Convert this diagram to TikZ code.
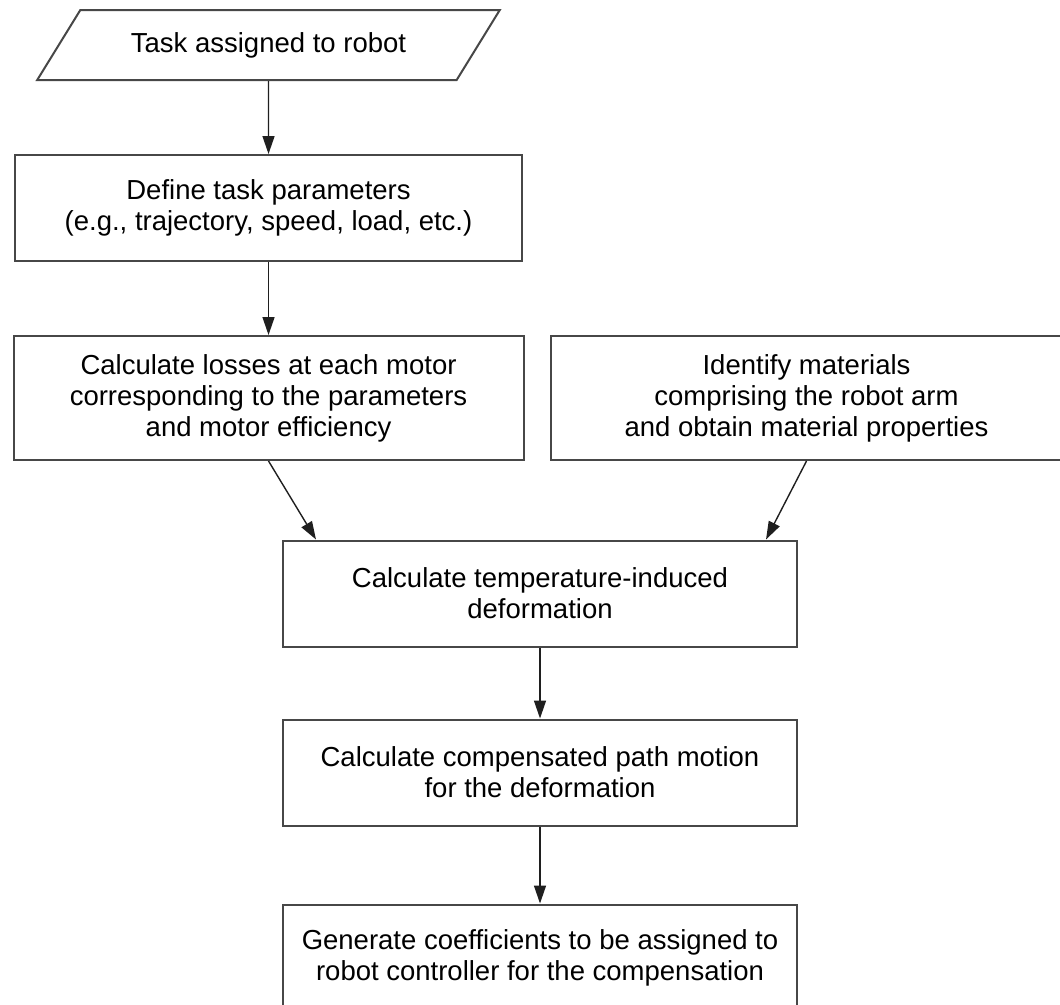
\documentclass[tikz,border=0pt]{standalone}
\usepackage{fontspec}
\setmainfont{Liberation Sans}
\usepackage{tikz}
\usetikzlibrary{
  arrows.meta,
  positioning,
  shapes.geometric,
  calc
}
\tikzset{
  stepbox/.style={draw=black!72, line width=2pt, fill=white,
    minimum height=106pt, align=center,
    font=\fontsize{27.5}{31}\selectfont},
  inbox/.style={draw=black!72, line width=2pt, fill=white,
    trapezium, trapezium left angle=45, trapezium right angle=135,
    trapezium stretches=true,
    minimum width=463pt, minimum height=70pt, align=center,
    font=\fontsize{27.5}{31}\selectfont},
  arr/.style={-{Triangle[length=18pt, width=12pt]}, line width=1.4pt, draw=black!88},
}

\begin{document}
\begin{tikzpicture}[
  node distance=73pt and 27pt
]
  \useasboundingbox (0pt,0pt) rectangle (1060pt,-1004pt);

  % Start: task given
  \node[inbox] (task) at (268.5pt,-45pt) {Task assigned to robot};

  % Task parameters
  \node[stepbox, minimum width=507pt,
        below=of task] (param)
    {Define task parameters\\
     (e.g., trajectory, speed, load, etc.)};

  % Losses and materials
  \node[stepbox, minimum width=510pt, minimum height=124pt,
        below=of param] (loss)
    {Calculate losses at each motor\\
     corresponding to the parameters\\
     and motor efficiency};
  \node[stepbox, minimum width=512pt, minimum height=124pt,
        right=25pt of loss] (mater)
    {Identify materials\\
     comprising the robot arm\\
     and obtain material properties};

  % Deformation and compensation
  \node[stepbox, minimum width=514pt] (deform) at (540pt,-593.5pt)
    {Calculate temperature-induced\\
     deformation};
  \node[stepbox, minimum width=514pt,
        below=71pt of deform] (comp)
    {Calculate compensated path motion\\
     for the deformation};
  \node[stepbox, minimum width=514pt,
        below=77pt of comp] (coeff)
    {Generate coefficients to be assigned to\\
     robot controller for the compensation};

  % Arrows
  \draw[arr] (task) -- (param);
  \draw[arr] (param) -- (loss);
  \draw[arr] (loss.south) -- ($(deform.north west)+(34pt,0)$);
  \draw[arr] (mater.south) -- ($(deform.north east)+(-32pt,0)$);
  \draw[arr] (deform) -- (comp);
  \draw[arr] (comp) -- (coeff);
\end{tikzpicture}
\end{document}
